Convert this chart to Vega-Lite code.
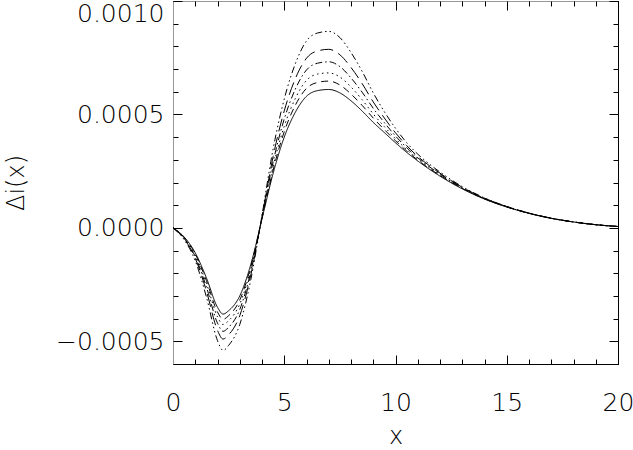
{
  "$schema": "https://vega.github.io/schema/vega-lite/v6.json",
  "width": 445,
  "height": 363,
  "autosize": "none",
  "padding": {"left": 173, "top": 1, "right": 15, "bottom": 86},
  "background": "white",
  "config": {
    "view": {"stroke": null},
    "axis": {
      "labelFont": "DejaVu Sans", "titleFont": "DejaVu Sans",
      "labelFontWeight": 200, "titleFontWeight": 200,
      "labelFontSize": 25, "titleFontSize": 24,
      "labelColor": "#000", "titleColor": "#000",
      "tickColor": "#000", "domainColor": "#000", "grid": false
    }
  },
  "data": {"values": [
    {"c":"a","x":0,"y":0},{"c":"a","x":0.5,"y":-0.00004},{"c":"a","x":1,"y":-0.00011},{"c":"a","x":1.5,"y":-0.00022},{"c":"a","x":2,"y":-0.00035},{"c":"a","x":2.25,"y":-0.00038},{"c":"a","x":2.5,"y":-0.000365},{"c":"a","x":3,"y":-0.0003},{"c":"a","x":3.5,"y":-0.00016},{"c":"a","x":4,"y":0.00004},{"c":"a","x":4.5,"y":0.00024},{"c":"a","x":5,"y":0.0004},{"c":"a","x":5.5,"y":0.00051},{"c":"a","x":6,"y":0.00058},{"c":"a","x":6.5,"y":0.000605},{"c":"a","x":7,"y":0.00061},{"c":"a","x":7.5,"y":0.000595},{"c":"a","x":8,"y":0.00056},{"c":"a","x":8.5,"y":0.000515},{"c":"a","x":9,"y":0.000465},{"c":"a","x":9.5,"y":0.00042},{"c":"a","x":10,"y":0.000375},{"c":"a","x":10.5,"y":0.000333},{"c":"a","x":11,"y":0.000295},{"c":"a","x":11.5,"y":0.00026},{"c":"a","x":12,"y":0.000228},{"c":"a","x":13,"y":0.000172},{"c":"a","x":14,"y":0.000127},{"c":"a","x":15,"y":0.000092},{"c":"a","x":16,"y":0.000064},{"c":"a","x":17,"y":0.000042},{"c":"a","x":18,"y":0.000026},{"c":"a","x":19,"y":0.000014},{"c":"a","x":20,"y":0.000006},
    {"c":"b","x":0,"y":0},{"c":"b","x":0.5,"y":-0.0000417},{"c":"b","x":1,"y":-0.000115},{"c":"b","x":1.5,"y":-0.000232},{"c":"b","x":2,"y":-0.000371},{"c":"b","x":2.25,"y":-0.000403},{"c":"b","x":2.5,"y":-0.000387},{"c":"b","x":3,"y":-0.000318},{"c":"b","x":3.5,"y":-0.00017},{"c":"b","x":4,"y":0.0000423},{"c":"b","x":4.5,"y":0.000255},{"c":"b","x":5,"y":0.000424},{"c":"b","x":5.5,"y":0.000541},{"c":"b","x":6,"y":0.000615},{"c":"b","x":6.5,"y":0.000641},{"c":"b","x":7,"y":0.000647},{"c":"b","x":7.5,"y":0.00063},{"c":"b","x":8,"y":0.00059},{"c":"b","x":8.5,"y":0.00054},{"c":"b","x":9,"y":0.000484},{"c":"b","x":9.5,"y":0.000433},{"c":"b","x":10,"y":0.000384},{"c":"b","x":10.5,"y":0.000339},{"c":"b","x":11,"y":0.000299},{"c":"b","x":11.5,"y":0.000263},{"c":"b","x":12,"y":0.000231},{"c":"b","x":13,"y":0.000174},{"c":"b","x":14,"y":0.000128},{"c":"b","x":15,"y":0.0000924},{"c":"b","x":16,"y":0.0000642},{"c":"b","x":17,"y":0.0000421},{"c":"b","x":18,"y":0.000026},{"c":"b","x":19,"y":0.000014},{"c":"b","x":20,"y":0.000006},
    {"c":"c","x":0,"y":0},{"c":"c","x":0.5,"y":-0.0000434},{"c":"c","x":1,"y":-0.00012},{"c":"c","x":1.5,"y":-0.000244},{"c":"c","x":2,"y":-0.000392},{"c":"c","x":2.25,"y":-0.000426},{"c":"c","x":2.5,"y":-0.000409},{"c":"c","x":3,"y":-0.000336},{"c":"c","x":3.5,"y":-0.000179},{"c":"c","x":4,"y":0.0000446},{"c":"c","x":4.5,"y":0.000271},{"c":"c","x":5,"y":0.000448},{"c":"c","x":5.5,"y":0.000571},{"c":"c","x":6,"y":0.00065},{"c":"c","x":6.5,"y":0.000678},{"c":"c","x":7,"y":0.000683},{"c":"c","x":7.5,"y":0.000665},{"c":"c","x":8,"y":0.000621},{"c":"c","x":8.5,"y":0.000565},{"c":"c","x":9,"y":0.000502},{"c":"c","x":9.5,"y":0.000446},{"c":"c","x":10,"y":0.000393},{"c":"c","x":10.5,"y":0.000345},{"c":"c","x":11,"y":0.000304},{"c":"c","x":11.5,"y":0.000267},{"c":"c","x":12,"y":0.000233},{"c":"c","x":13,"y":0.000175},{"c":"c","x":14,"y":0.000128},{"c":"c","x":15,"y":0.0000928},{"c":"c","x":16,"y":0.0000644},{"c":"c","x":17,"y":0.0000422},{"c":"c","x":18,"y":0.000026},{"c":"c","x":19,"y":0.000014},{"c":"c","x":20,"y":0.000006},
    {"c":"d","x":0,"y":0},{"c":"d","x":0.5,"y":-0.0000457},{"c":"d","x":1,"y":-0.000127},{"c":"d","x":1.5,"y":-0.00026},{"c":"d","x":2,"y":-0.00042},{"c":"d","x":2.25,"y":-0.000456},{"c":"d","x":2.5,"y":-0.000438},{"c":"d","x":3,"y":-0.00036},{"c":"d","x":3.5,"y":-0.000192},{"c":"d","x":4,"y":0.0000476},{"c":"d","x":4.5,"y":0.000291},{"c":"d","x":5,"y":0.00048},{"c":"d","x":5.5,"y":0.000612},{"c":"d","x":6,"y":0.000696},{"c":"d","x":6.5,"y":0.000726},{"c":"d","x":7,"y":0.000732},{"c":"d","x":7.5,"y":0.000711},{"c":"d","x":8,"y":0.000661},{"c":"d","x":8.5,"y":0.000598},{"c":"d","x":9,"y":0.000527},{"c":"d","x":9.5,"y":0.000464},{"c":"d","x":10,"y":0.000405},{"c":"d","x":10.5,"y":0.000354},{"c":"d","x":11,"y":0.000309},{"c":"d","x":11.5,"y":0.000271},{"c":"d","x":12,"y":0.000237},{"c":"d","x":13,"y":0.000177},{"c":"d","x":14,"y":0.000129},{"c":"d","x":15,"y":0.0000933},{"c":"d","x":16,"y":0.0000646},{"c":"d","x":17,"y":0.0000424},{"c":"d","x":18,"y":0.0000261},{"c":"d","x":19,"y":0.000014},{"c":"d","x":20,"y":0.000006},
    {"c":"e","x":0,"y":0},{"c":"e","x":0.5,"y":-0.0000483},{"c":"e","x":1,"y":-0.000134},{"c":"e","x":1.5,"y":-0.000278},{"c":"e","x":2,"y":-0.000452},{"c":"e","x":2.25,"y":-0.00049},{"c":"e","x":2.5,"y":-0.000471},{"c":"e","x":3,"y":-0.000387},{"c":"e","x":3.5,"y":-0.000206},{"c":"e","x":4,"y":0.000051},{"c":"e","x":4.5,"y":0.000315},{"c":"e","x":5,"y":0.000516},{"c":"e","x":5.5,"y":0.000658},{"c":"e","x":6,"y":0.000748},{"c":"e","x":6.5,"y":0.00078},{"c":"e","x":7,"y":0.000787},{"c":"e","x":7.5,"y":0.000763},{"c":"e","x":8,"y":0.000707},{"c":"e","x":8.5,"y":0.000636},{"c":"e","x":9,"y":0.000555},{"c":"e","x":9.5,"y":0.000484},{"c":"e","x":10,"y":0.000419},{"c":"e","x":10.5,"y":0.000363},{"c":"e","x":11,"y":0.000315},{"c":"e","x":11.5,"y":0.000276},{"c":"e","x":12,"y":0.000241},{"c":"e","x":13,"y":0.000179},{"c":"e","x":14,"y":0.000131},{"c":"e","x":15,"y":0.0000939},{"c":"e","x":16,"y":0.0000649},{"c":"e","x":17,"y":0.0000426},{"c":"e","x":18,"y":0.0000262},{"c":"e","x":19,"y":0.000014},{"c":"e","x":20,"y":0.000006},
    {"c":"f","x":0,"y":0},{"c":"f","x":0.5,"y":-0.000052},{"c":"f","x":1,"y":-0.000145},{"c":"f","x":1.5,"y":-0.000304},{"c":"f","x":2,"y":-0.000497},{"c":"f","x":2.25,"y":-0.00054},{"c":"f","x":2.5,"y":-0.000518},{"c":"f","x":3,"y":-0.000426},{"c":"f","x":3.5,"y":-0.000227},{"c":"f","x":4,"y":0.000056},{"c":"f","x":4.5,"y":0.000348},{"c":"f","x":5,"y":0.000568},{"c":"f","x":5.5,"y":0.000724},{"c":"f","x":6,"y":0.000824},{"c":"f","x":6.5,"y":0.000859},{"c":"f","x":7,"y":0.000866},{"c":"f","x":7.5,"y":0.000839},{"c":"f","x":8,"y":0.000773},{"c":"f","x":8.5,"y":0.00069},{"c":"f","x":9,"y":0.000595},{"c":"f","x":9.5,"y":0.000512},{"c":"f","x":10,"y":0.000439},{"c":"f","x":10.5,"y":0.000376},{"c":"f","x":11,"y":0.000325},{"c":"f","x":11.5,"y":0.000283},{"c":"f","x":12,"y":0.000246},{"c":"f","x":13,"y":0.000182},{"c":"f","x":14,"y":0.000132},{"c":"f","x":15,"y":0.0000948},{"c":"f","x":16,"y":0.0000653},{"c":"f","x":17,"y":0.0000428},{"c":"f","x":18,"y":0.0000263},{"c":"f","x":19,"y":0.000014},{"c":"f","x":20,"y":0.000006}
  ]},
  "layer": [
    {
      "mark": {"type": "line", "interpolate": "monotone", "strokeWidth": 1, "color": "black", "clip": true},
      "encoding": {
        "x": {"field": "x", "type": "quantitative", "scale": {"domain": [0, 20], "nice": false, "zero": false},
          "axis": {"orient": "bottom", "values": [0, 5, 10, 15, 20], "format": "d", "tickSize": -9, "labelPadding": 35, "labelFlush": false, "title": "x", "titlePadding": 9, "domain": true, "domainColor": "#000"}},
        "y": {"field": "y", "type": "quantitative", "scale": {"domain": [-0.0006, 0.001], "nice": false, "zero": false},
          "axis": {"orient": "left", "values": [-0.0005, 0, 0.0005, 0.001], "format": ".4f", "tickSize": -9, "labelPadding": 18, "labelFlush": true, "title": "Δi(x)", "titlePadding": 27, "domain": true, "domainColor": "#999"}},
        "strokeDash": {"field": "c", "type": "nominal", "legend": null,
          "scale": {"domain": ["a", "b", "c", "d", "e", "f"], "range": [[1, 0], [7, 5], [1.5, 3.5], [7, 3, 1.5, 3], [13, 6], [7, 3, 1.5, 3, 1.5, 3, 1.5, 3]]}}
      }
    },
    {
      "mark": {"type": "point", "opacity": 0},
      "encoding": {
        "x": {"field": "x", "type": "quantitative", "scale": {"domain": [0, 20], "nice": false, "zero": false},
          "axis": {"orient": "bottom", "values": [0,1,2,3,4,5,6,7,8,9,10,11,12,13,14,15,16,17,18,19,20], "tickSize": -5, "labels": false, "title": null, "domain": false}},
        "y": {"field": "y", "type": "quantitative", "scale": {"domain": [-0.0006, 0.001], "nice": false, "zero": false},
          "axis": {"orient": "left", "values": [-0.0006,-0.0005,-0.0004,-0.0003,-0.0002,-0.0001,0,0.0001,0.0002,0.0003,0.0004,0.0005,0.0006,0.0007,0.0008,0.0009,0.001], "tickSize": -5, "labels": false, "title": null, "domain": false}}
      }
    },
    {
      "mark": {"type": "point", "opacity": 0},
      "encoding": {
        "x": {"field": "x", "type": "quantitative", "scale": {"domain": [0, 20], "nice": false, "zero": false},
          "axis": {"orient": "top", "values": [0, 5, 10, 15, 20], "tickSize": -9, "labels": false, "title": null, "domain": true, "domainColor": "#999"}},
        "y": {"field": "y", "type": "quantitative", "scale": {"domain": [-0.0006, 0.001], "nice": false, "zero": false},
          "axis": {"orient": "right", "values": [-0.0005, 0, 0.0005, 0.001], "tickSize": -9, "labels": false, "title": null, "domain": true, "domainColor": "#000"}}
      }
    },
    {
      "mark": {"type": "point", "opacity": 0},
      "encoding": {
        "x": {"field": "x", "type": "quantitative", "scale": {"domain": [0, 20], "nice": false, "zero": false},
          "axis": {"orient": "top", "values": [0,1,2,3,4,5,6,7,8,9,10,11,12,13,14,15,16,17,18,19,20], "tickSize": -5, "labels": false, "title": null, "domain": false}},
        "y": {"field": "y", "type": "quantitative", "scale": {"domain": [-0.0006, 0.001], "nice": false, "zero": false},
          "axis": {"orient": "right", "values": [-0.0006,-0.0005,-0.0004,-0.0003,-0.0002,-0.0001,0,0.0001,0.0002,0.0003,0.0004,0.0005,0.0006,0.0007,0.0008,0.0009,0.001], "tickSize": -5, "labels": false, "title": null, "domain": false}}
      }
    }
  ],
  "resolve": {"axis": {"x": "independent", "y": "independent"}}
}
